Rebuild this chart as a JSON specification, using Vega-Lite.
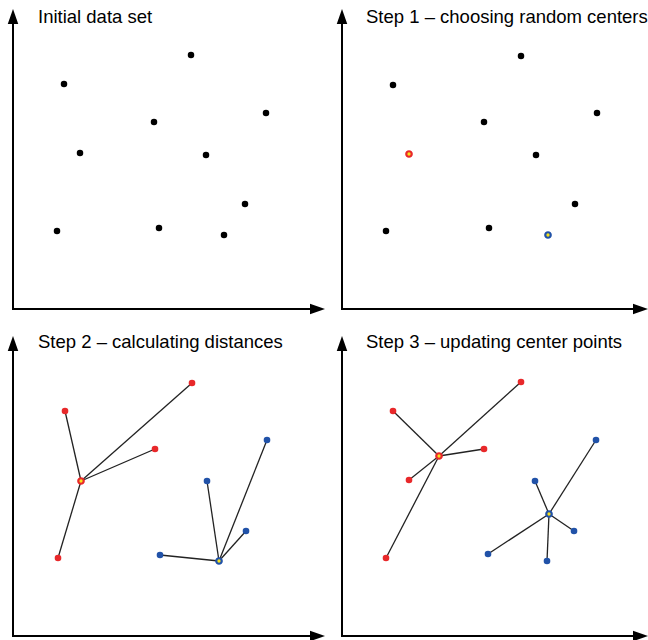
{
  "$schema": "https://vega.github.io/schema/vega-lite/v6.json",
  "background": "white",
  "padding": {"left": 7, "top": 7, "right": 0, "bottom": 0},
  "autosize": {"type": "pad"},
  "bounds": "flush",
  "columns": 2,
  "spacing": {"row": 27, "column": 17},
  "config": {"view": {"stroke": null}},
  "datasets": {
    "one": [{}],
    "p1": [
      {"x": 51, "y": 225, "group": "none", "kind": "point"},
      {"x": 178, "y": 254, "group": "none", "kind": "point"},
      {"x": 253, "y": 196, "group": "none", "kind": "point"},
      {"x": 141, "y": 187, "group": "none", "kind": "point"},
      {"x": 67, "y": 156, "group": "none", "kind": "point"},
      {"x": 193, "y": 154, "group": "none", "kind": "point"},
      {"x": 232, "y": 105, "group": "none", "kind": "point"},
      {"x": 44, "y": 78, "group": "none", "kind": "point"},
      {"x": 146, "y": 81, "group": "none", "kind": "point"},
      {"x": 211, "y": 74, "group": "none", "kind": "point"}
    ],
    "p2": [
      {"x": 51, "y": 224, "group": "none", "kind": "point"},
      {"x": 179, "y": 253, "group": "none", "kind": "point"},
      {"x": 255, "y": 196, "group": "none", "kind": "point"},
      {"x": 142, "y": 187, "group": "none", "kind": "point"},
      {"x": 194, "y": 154, "group": "none", "kind": "point"},
      {"x": 233, "y": 105, "group": "none", "kind": "point"},
      {"x": 44, "y": 78, "group": "none", "kind": "point"},
      {"x": 147, "y": 81, "group": "none", "kind": "point"},
      {"x": 67, "y": 155, "group": "red", "kind": "center"},
      {"x": 206, "y": 74, "group": "blue", "kind": "center"}
    ],
    "p3": [
      {"x": 52, "y": 225, "group": "red", "kind": "point"},
      {"x": 179, "y": 253, "group": "red", "kind": "point"},
      {"x": 142, "y": 187, "group": "red", "kind": "point"},
      {"x": 45, "y": 78, "group": "red", "kind": "point"},
      {"x": 194, "y": 155, "group": "blue", "kind": "point"},
      {"x": 254, "y": 196, "group": "blue", "kind": "point"},
      {"x": 233, "y": 105, "group": "blue", "kind": "point"},
      {"x": 147, "y": 81, "group": "blue", "kind": "point"},
      {"x": 68, "y": 155, "group": "red", "kind": "center"},
      {"x": 206, "y": 75, "group": "blue", "kind": "center"}
    ],
    "l3": [
      {"x": 52, "y": 225, "cx": 68, "cy": 155},
      {"x": 179, "y": 253, "cx": 68, "cy": 155},
      {"x": 142, "y": 187, "cx": 68, "cy": 155},
      {"x": 45, "y": 78, "cx": 68, "cy": 155},
      {"x": 194, "y": 155, "cx": 206, "cy": 75},
      {"x": 254, "y": 196, "cx": 206, "cy": 75},
      {"x": 233, "y": 105, "cx": 206, "cy": 75},
      {"x": 147, "y": 81, "cx": 206, "cy": 75}
    ],
    "p4": [
      {"x": 51, "y": 225, "group": "red", "kind": "point"},
      {"x": 179, "y": 254, "group": "red", "kind": "point"},
      {"x": 142, "y": 187, "group": "red", "kind": "point"},
      {"x": 67, "y": 156, "group": "red", "kind": "point"},
      {"x": 44, "y": 78, "group": "red", "kind": "point"},
      {"x": 193, "y": 155, "group": "blue", "kind": "point"},
      {"x": 254, "y": 196, "group": "blue", "kind": "point"},
      {"x": 232, "y": 105, "group": "blue", "kind": "point"},
      {"x": 146, "y": 82, "group": "blue", "kind": "point"},
      {"x": 205, "y": 75, "group": "blue", "kind": "point"},
      {"x": 97, "y": 180, "group": "red", "kind": "center"},
      {"x": 207, "y": 122, "group": "blue", "kind": "center"}
    ],
    "l4": [
      {"x": 51, "y": 225, "cx": 97, "cy": 180},
      {"x": 179, "y": 254, "cx": 97, "cy": 180},
      {"x": 142, "y": 187, "cx": 97, "cy": 180},
      {"x": 67, "y": 156, "cx": 97, "cy": 180},
      {"x": 44, "y": 78, "cx": 97, "cy": 180},
      {"x": 193, "y": 155, "cx": 207, "cy": 122},
      {"x": 254, "y": 196, "cx": 207, "cy": 122},
      {"x": 232, "y": 105, "cx": 207, "cy": 122},
      {"x": 146, "y": 82, "cx": 207, "cy": 122},
      {"x": 205, "y": 75, "cx": 207, "cy": 122}
    ]
  },
  "concat": [
    {
      "width": 312, "height": 300,
      "layer": [
        {"data": {"name": "one"}, "mark": {"type": "rule", "strokeWidth": 2, "color": "#000", "strokeCap": "square"},
         "encoding": {"x": {"datum": 0, "type": "quantitative", "scale": {"domain": [0, 312], "nice": false, "zero": false}, "axis": null},
                      "y": {"datum": 0, "type": "quantitative", "scale": {"domain": [0, 300], "nice": false, "zero": false}, "axis": null},
                      "y2": {"datum": 290}}},
        {"data": {"name": "one"}, "mark": {"type": "rule", "strokeWidth": 2, "color": "#000", "strokeCap": "square"},
         "encoding": {"x": {"datum": 0, "type": "quantitative"}, "x2": {"datum": 302},
                      "y": {"datum": 0, "type": "quantitative"}}},
        {"data": {"name": "one"}, "mark": {"type": "point", "shape": "M0,-1L0.7,1L-0.7,1Z", "filled": true, "color": "#000", "opacity": 1, "size": 225, "strokeWidth": 0},
         "encoding": {"x": {"datum": 0, "type": "quantitative"}, "y": {"datum": 292.5, "type": "quantitative"}}},
        {"data": {"name": "one"}, "mark": {"type": "point", "shape": "M1,0L-1,0.7L-1,-0.7Z", "filled": true, "color": "#000", "opacity": 1, "size": 225, "strokeWidth": 0},
         "encoding": {"x": {"datum": 304.5, "type": "quantitative"}, "y": {"datum": 0, "type": "quantitative"}}},
        {"data": {"name": "one"}, "mark": {"type": "text", "text": "Initial data set", "font": "Liberation Sans", "fontSize": 18.5, "align": "left", "baseline": "alphabetic", "color": "#000"},
         "encoding": {"x": {"datum": 25, "type": "quantitative"}, "y": {"datum": 286, "type": "quantitative"}}},
        {"data": {"name": "p1"},
         "mark": {"type": "circle", "size": 42, "opacity": 1, "color": "#000"},
         "encoding": {"x": {"field": "x", "type": "quantitative"}, "y": {"field": "y", "type": "quantitative"}}}
      ]
    },
    {
      "width": 306, "height": 300,
      "layer": [
        {"data": {"name": "one"}, "mark": {"type": "rule", "strokeWidth": 2, "color": "#000", "strokeCap": "square"},
         "encoding": {"x": {"datum": 0, "type": "quantitative", "scale": {"domain": [0, 306], "nice": false, "zero": false}, "axis": null},
                      "y": {"datum": 0, "type": "quantitative", "scale": {"domain": [0, 300], "nice": false, "zero": false}, "axis": null},
                      "y2": {"datum": 290}}},
        {"data": {"name": "one"}, "mark": {"type": "rule", "strokeWidth": 2, "color": "#000", "strokeCap": "square"},
         "encoding": {"x": {"datum": 0, "type": "quantitative"}, "x2": {"datum": 296},
                      "y": {"datum": 0, "type": "quantitative"}}},
        {"data": {"name": "one"}, "mark": {"type": "point", "shape": "M0,-1L0.7,1L-0.7,1Z", "filled": true, "color": "#000", "opacity": 1, "size": 225, "strokeWidth": 0},
         "encoding": {"x": {"datum": 0, "type": "quantitative"}, "y": {"datum": 292.5, "type": "quantitative"}}},
        {"data": {"name": "one"}, "mark": {"type": "point", "shape": "M1,0L-1,0.7L-1,-0.7Z", "filled": true, "color": "#000", "opacity": 1, "size": 225, "strokeWidth": 0},
         "encoding": {"x": {"datum": 298.5, "type": "quantitative"}, "y": {"datum": 0, "type": "quantitative"}}},
        {"data": {"name": "one"}, "mark": {"type": "text", "text": "Step 1 – choosing random centers", "font": "Liberation Sans", "fontSize": 18.5, "align": "left", "baseline": "alphabetic", "color": "#000"},
         "encoding": {"x": {"datum": 24, "type": "quantitative"}, "y": {"datum": 286, "type": "quantitative"}}},
        {"data": {"name": "p2"},
         "transform": [{"filter": "datum.kind === 'point'"}],
         "mark": {"type": "circle", "size": 42, "opacity": 1, "color": "#000"},
         "encoding": {"x": {"field": "x", "type": "quantitative"}, "y": {"field": "y", "type": "quantitative"}}},
        {"data": {"name": "p2"},
         "transform": [{"filter": "datum.kind === 'center'"}],
         "mark": {"type": "point", "shape": "circle", "size": 30, "opacity": 1, "filled": false, "fill": "#f7e21c", "strokeWidth": 2.2},
         "encoding": {"x": {"field": "x", "type": "quantitative"}, "y": {"field": "y", "type": "quantitative"},
                      "stroke": {"field": "group", "type": "nominal", "scale": {"domain": ["red", "blue"], "range": ["#e8282a", "#2152a8"]}, "legend": null}}}
      ]
    },
    {
      "width": 312, "height": 300,
      "layer": [
        {"data": {"name": "one"}, "mark": {"type": "rule", "strokeWidth": 2, "color": "#000", "strokeCap": "square"},
         "encoding": {"x": {"datum": 0, "type": "quantitative", "scale": {"domain": [0, 312], "nice": false, "zero": false}, "axis": null},
                      "y": {"datum": 0, "type": "quantitative", "scale": {"domain": [0, 300], "nice": false, "zero": false}, "axis": null},
                      "y2": {"datum": 290}}},
        {"data": {"name": "one"}, "mark": {"type": "rule", "strokeWidth": 2, "color": "#000", "strokeCap": "square"},
         "encoding": {"x": {"datum": 0, "type": "quantitative"}, "x2": {"datum": 302},
                      "y": {"datum": 0, "type": "quantitative"}}},
        {"data": {"name": "one"}, "mark": {"type": "point", "shape": "M0,-1L0.7,1L-0.7,1Z", "filled": true, "color": "#000", "opacity": 1, "size": 225, "strokeWidth": 0},
         "encoding": {"x": {"datum": 0, "type": "quantitative"}, "y": {"datum": 292.5, "type": "quantitative"}}},
        {"data": {"name": "one"}, "mark": {"type": "point", "shape": "M1,0L-1,0.7L-1,-0.7Z", "filled": true, "color": "#000", "opacity": 1, "size": 225, "strokeWidth": 0},
         "encoding": {"x": {"datum": 304.5, "type": "quantitative"}, "y": {"datum": 0, "type": "quantitative"}}},
        {"data": {"name": "one"}, "mark": {"type": "text", "text": "Step 2 – calculating distances", "font": "Liberation Sans", "fontSize": 18.5, "align": "left", "baseline": "alphabetic", "color": "#000"},
         "encoding": {"x": {"datum": 25, "type": "quantitative"}, "y": {"datum": 288, "type": "quantitative"}}},
        {"data": {"name": "l3"},
         "mark": {"type": "rule", "strokeWidth": 1.3, "color": "#222"},
         "encoding": {"x": {"field": "cx", "type": "quantitative"}, "y": {"field": "cy", "type": "quantitative"},
                      "x2": {"field": "x"}, "y2": {"field": "y"}}},
        {"data": {"name": "p3"},
         "transform": [{"filter": "datum.kind === 'point'"}],
         "mark": {"type": "circle", "size": 44, "opacity": 1},
         "encoding": {"x": {"field": "x", "type": "quantitative"}, "y": {"field": "y", "type": "quantitative"},
                      "color": {"field": "group", "type": "nominal", "scale": {"domain": ["red", "blue"], "range": ["#e8282a", "#2152a8"]}, "legend": null}}},
        {"data": {"name": "p3"},
         "transform": [{"filter": "datum.kind === 'center'"}],
         "mark": {"type": "point", "shape": "circle", "size": 30, "opacity": 1, "filled": false, "fill": "#f7e21c", "strokeWidth": 2.2},
         "encoding": {"x": {"field": "x", "type": "quantitative"}, "y": {"field": "y", "type": "quantitative"},
                      "stroke": {"field": "group", "type": "nominal", "scale": {"domain": ["red", "blue"], "range": ["#e8282a", "#2152a8"]}, "legend": null}}}
      ]
    },
    {
      "width": 306, "height": 300,
      "layer": [
        {"data": {"name": "one"}, "mark": {"type": "rule", "strokeWidth": 2, "color": "#000", "strokeCap": "square"},
         "encoding": {"x": {"datum": 0, "type": "quantitative", "scale": {"domain": [0, 306], "nice": false, "zero": false}, "axis": null},
                      "y": {"datum": 0, "type": "quantitative", "scale": {"domain": [0, 300], "nice": false, "zero": false}, "axis": null},
                      "y2": {"datum": 290}}},
        {"data": {"name": "one"}, "mark": {"type": "rule", "strokeWidth": 2, "color": "#000", "strokeCap": "square"},
         "encoding": {"x": {"datum": 0, "type": "quantitative"}, "x2": {"datum": 296},
                      "y": {"datum": 0, "type": "quantitative"}}},
        {"data": {"name": "one"}, "mark": {"type": "point", "shape": "M0,-1L0.7,1L-0.7,1Z", "filled": true, "color": "#000", "opacity": 1, "size": 225, "strokeWidth": 0},
         "encoding": {"x": {"datum": 0, "type": "quantitative"}, "y": {"datum": 292.5, "type": "quantitative"}}},
        {"data": {"name": "one"}, "mark": {"type": "point", "shape": "M1,0L-1,0.7L-1,-0.7Z", "filled": true, "color": "#000", "opacity": 1, "size": 225, "strokeWidth": 0},
         "encoding": {"x": {"datum": 298.5, "type": "quantitative"}, "y": {"datum": 0, "type": "quantitative"}}},
        {"data": {"name": "one"}, "mark": {"type": "text", "text": "Step 3 – updating center points", "font": "Liberation Sans", "fontSize": 18.5, "align": "left", "baseline": "alphabetic", "color": "#000"},
         "encoding": {"x": {"datum": 24, "type": "quantitative"}, "y": {"datum": 288, "type": "quantitative"}}},
        {"data": {"name": "l4"},
         "mark": {"type": "rule", "strokeWidth": 1.3, "color": "#222"},
         "encoding": {"x": {"field": "cx", "type": "quantitative"}, "y": {"field": "cy", "type": "quantitative"},
                      "x2": {"field": "x"}, "y2": {"field": "y"}}},
        {"data": {"name": "p4"},
         "transform": [{"filter": "datum.kind === 'point'"}],
         "mark": {"type": "circle", "size": 44, "opacity": 1},
         "encoding": {"x": {"field": "x", "type": "quantitative"}, "y": {"field": "y", "type": "quantitative"},
                      "color": {"field": "group", "type": "nominal", "scale": {"domain": ["red", "blue"], "range": ["#e8282a", "#2152a8"]}, "legend": null}}},
        {"data": {"name": "p4"},
         "transform": [{"filter": "datum.kind === 'center'"}],
         "mark": {"type": "point", "shape": "circle", "size": 30, "opacity": 1, "filled": false, "fill": "#f7e21c", "strokeWidth": 2.2},
         "encoding": {"x": {"field": "x", "type": "quantitative"}, "y": {"field": "y", "type": "quantitative"},
                      "stroke": {"field": "group", "type": "nominal", "scale": {"domain": ["red", "blue"], "range": ["#e8282a", "#2152a8"]}, "legend": null}}}
      ]
    }
  ]
}
